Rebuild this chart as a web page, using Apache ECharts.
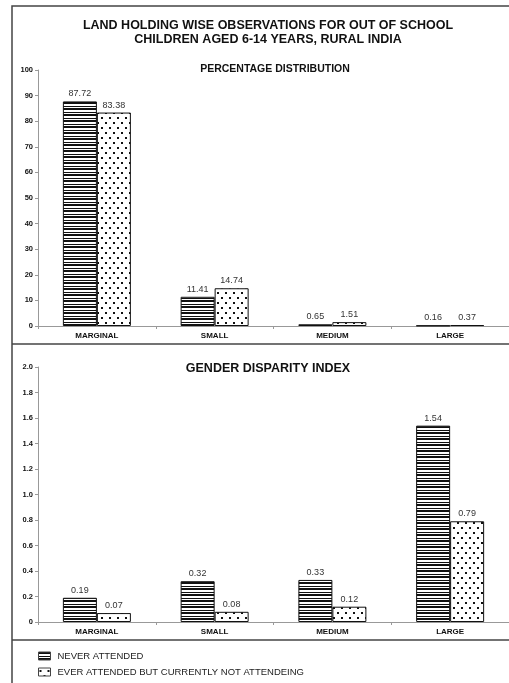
<!DOCTYPE html>
<html>
<head>
<meta charset="utf-8">
<script src="https://cdn.jsdelivr.net/npm/echarts@6/dist/echarts.min.js"></script>
<style>
  html, body { margin: 0; padding: 0; background: #fff; }
  #chart { width: 509px; height: 683px; }
</style>
</head>
<body>
<div id="chart"></div>
<script>
// Land holding categories and the two out-of-school groups
const categories = ['MARGINAL', 'SMALL', 'MEDIUM', 'LARGE'];
const seriesNames = ['NEVER ATTENDED', 'EVER ATTENDED BUT CURRENTLY NOT ATTENDEING'];

// Percentage distribution
const pctNever = [87.72, 11.41, 0.65, 0.16];
const pctEver = [83.38, 14.74, 1.51, 0.37];

// Gender disparity index
const gdiNever = [0.19, 0.32, 0.33, 1.54];
const gdiEver = [0.07, 0.08, 0.12, 0.79];

// Fill patterns: horizontal stripes and a scattered dot grid
function stripePattern() {
  const c = document.createElement('canvas');
  c.width = 4; c.height = 12;
  const g = c.getContext('2d');
  g.fillStyle = '#fff'; g.fillRect(0, 0, 4, 12);
  g.fillStyle = '#111';
  g.fillRect(0, 0, 4, 2);
  g.fillRect(0, 4, 4, 1);
  g.fillRect(0, 6, 4, 2);
  g.fillRect(0, 10, 4, 1);
  return c;
}
function dotPattern() {
  const c = document.createElement('canvas');
  c.width = 8; c.height = 10;
  const g = c.getContext('2d');
  g.fillStyle = '#fff'; g.fillRect(0, 0, 8, 10);
  g.fillStyle = '#111';
  g.fillRect(1, 2, 2, 2);
  g.fillRect(5, 7, 2, 2);
  return c;
}
const stripeFill = { image: stripePattern(), repeat: 'repeat' };
const dotFill = { image: dotPattern(), repeat: 'repeat' };

const font = 'Liberation Sans, Arial, sans-serif';

function barSeries(name, data, fill, xi, fmt) {
  return {
    name: name,
    type: 'bar',
    xAxisIndex: xi,
    yAxisIndex: xi,
    data: data,
    barWidth: 34,
    barGap: '0%',
    itemStyle: { color: fill, borderColor: '#111', borderWidth: 1 },
    label: {
      show: true,
      position: 'top',
      distance: 3,
      fontFamily: font,
      fontSize: 9,
      color: '#333',
      formatter: p => fmt(p.value)
    }
  };
}

const axisCommon = {
  axisLine: { show: true, lineStyle: { color: '#999', width: 1 } },
  axisTick: { show: true, length: 3, lineStyle: { color: '#999' } },
  splitLine: { show: false }
};

function legendRow(name, top, fill) {
  return {
    orient: 'vertical',
    left: 38, top: top,
    padding: 0,
    itemWidth: 12, itemHeight: 8,
    icon: 'rect',
    data: [name],
    itemStyle: { color: fill, borderColor: '#444', borderWidth: 1 },
    textStyle: { fontFamily: font, fontSize: 9.5, color: '#222', padding: [0, 0, 0, 2] },
    selectedMode: false
  };
}

const chart = echarts.init(document.getElementById('chart'));
chart.setOption({
  animation: false,
  backgroundColor: '#fff',
  title: [
    {
      text: 'LAND HOLDING WISE OBSERVATIONS FOR OUT OF SCHOOL\nCHILDREN AGED 6-14 YEARS, RURAL INDIA',
      left: 263, top: 14, textAlign: 'center',
      textStyle: { fontFamily: font, fontSize: 12.5, fontWeight: 'bold', color: '#111', lineHeight: 14 }
    },
    {
      text: 'PERCENTAGE DISTRIBUTION',
      left: 270, top: 59, textAlign: 'center',
      textStyle: { fontFamily: font, fontSize: 10.5, fontWeight: 'bold', color: '#111' }
    },
    {
      text: 'GENDER DISPARITY INDEX',
      left: 263, top: 357, textAlign: 'center',
      textStyle: { fontFamily: font, fontSize: 12.5, fontWeight: 'bold', color: '#111' }
    }
  ],
  legend: [
    legendRow(seriesNames[0], 651, stripeFill),
    legendRow(seriesNames[1], 667, dotFill)
  ],
  grid: [
    { left: 38, width: 472, top: 70, height: 256 },
    { left: 38, width: 472, top: 367, height: 255 }
  ],
  xAxis: [0, 1].map(i => Object.assign({}, axisCommon, {
    type: 'category',
    gridIndex: i,
    data: categories,
    axisLabel: { fontFamily: font, fontSize: 8, fontWeight: 'bold', color: '#111', margin: 6 }
  })),
  yAxis: [
    Object.assign({}, axisCommon, {
      type: 'value', gridIndex: 0, min: 0, max: 100, interval: 10,
      axisLabel: { fontFamily: font, fontSize: 7.5, fontWeight: 'bold', color: '#111', margin: 5 }
    }),
    Object.assign({}, axisCommon, {
      type: 'value', gridIndex: 1, min: 0, max: 2, interval: 0.2,
      axisLabel: {
        fontFamily: font, fontSize: 7.5, fontWeight: 'bold', color: '#111', margin: 5,
        formatter: v => (v === 0 ? '0' : v.toFixed(1))
      }
    })
  ],
  series: [
    barSeries(seriesNames[0], pctNever, stripeFill, 0, v => v.toFixed(2)),
    barSeries(seriesNames[1], pctEver, dotFill, 0, v => v.toFixed(2)),
    barSeries(seriesNames[0], gdiNever, stripeFill, 1, v => v.toFixed(2)),
    barSeries(seriesNames[1], gdiEver, dotFill, 1, v => v.toFixed(2))
  ],
  graphic: [
    // outer frame and panel dividers
    { type: 'rect', shape: { x: 12, y: 6, width: 510, height: 690 },
      style: { fill: null, stroke: '#444', lineWidth: 1.5 }, silent: true },
    { type: 'line', shape: { x1: 12, y1: 344, x2: 509, y2: 344 },
      style: { stroke: '#444', lineWidth: 1.5 }, silent: true },
    { type: 'line', shape: { x1: 12, y1: 640, x2: 509, y2: 640 },
      style: { stroke: '#444', lineWidth: 1.5 }, silent: true }
  ]
});
</script>
</body>
</html>
